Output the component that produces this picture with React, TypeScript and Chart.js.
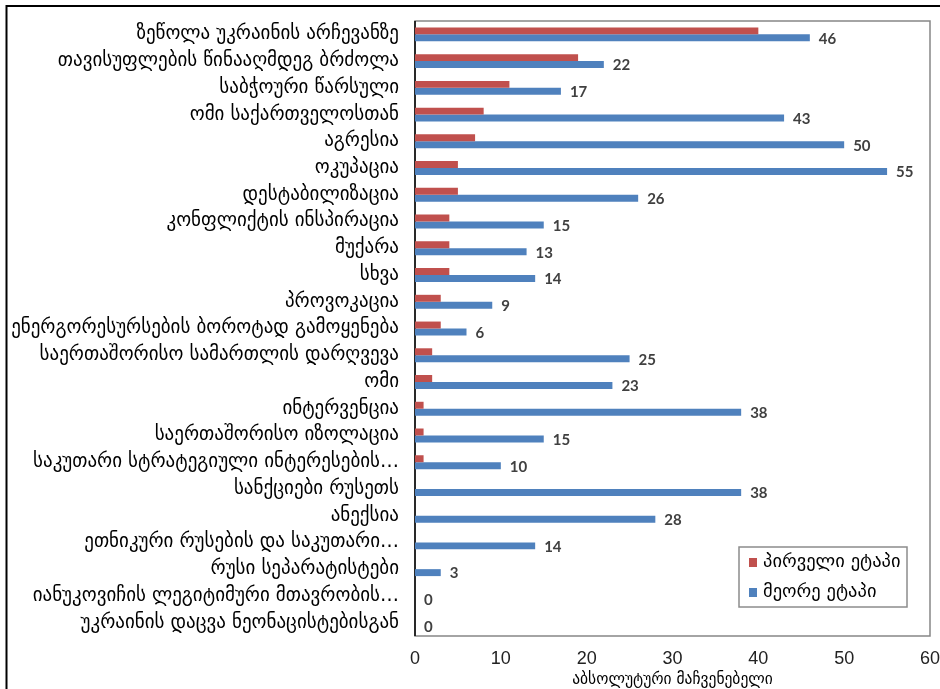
import React, { useEffect, useRef } from "react";
import { Chart, registerables } from "chart.js";

Chart.register(...registerables);

const categories = [
  "ზეწოლა უკრაინის არჩევანზე",
  "თავისუფლების წინააღმდეგ ბრძოლა",
  "საბჭოური წარსული",
  "ომი საქართველოსთან",
  "აგრესია",
  "ოკუპაცია",
  "დესტაბილიზაცია",
  "კონფლიქტის ინსპირაცია",
  "მუქარა",
  "სხვა",
  "პროვოკაცია",
  "ენერგორესურსების ბოროტად გამოყენება",
  "საერთაშორისო სამართლის დარღვევა",
  "ომი",
  "ინტერვენცია",
  "საერთაშორისო იზოლაცია",
  "საკუთარი სტრატეგიული ინტერესების…",
  "სანქციები რუსეთს",
  "ანექსია",
  "ეთნიკური რუსების და საკუთარი…",
  "რუსი სეპარატისტები",
  "იანუკოვიჩის ლეგიტიმური მთავრობის…",
  "უკრაინის დაცვა ნეონაცისტებისგან",
];

const firstStage = [40, 19, 11, 8, 7, 5, 5, 4, 4, 4, 3, 3, 2, 2, 1, 1, 1, 0, 0, 0, 0, 0, 0];
const secondStage = [46, 22, 17, 43, 50, 55, 26, 15, 13, 14, 9, 6, 25, 23, 38, 15, 10, 38, 28, 14, 3, 0, 0];

const seriesNames = ["პირველი ეტაპი", "მეორე ეტაპი"];
const seriesColors = ["#C0504D", "#4F81BD"];
const xMin = 0;
const xMax = 60;
const xStep = 10;
const xAxisTitle = "აბსოლუტური მაჩვენებელი";

const GEO_FONT = "'DejaVu Sans', 'Noto Sans', sans-serif";

const decorPlugin = {
  id: "decor",
  beforeDraw(chart: any) {
    const { ctx, width, height } = chart;
    ctx.save();
    ctx.fillStyle = "#ffffff";
    ctx.fillRect(0, 0, width, height);
    ctx.strokeStyle = "#000000";
    ctx.lineWidth = 2;
    ctx.beginPath();
    ctx.moveTo(6.5, height + 5);
    ctx.lineTo(6.5, 6);
    ctx.lineTo(width + 5, 6);
    ctx.stroke();
    ctx.restore();
  },
  beforeDatasetsDraw(chart: any) {
    const { ctx, chartArea: a } = chart;
    ctx.save();
    ctx.strokeStyle = "#868686";
    ctx.lineWidth = 1.5;
    ctx.strokeRect(a.left, a.top, a.right - a.left, a.bottom - a.top);
    ctx.strokeStyle = "#000000";
    ctx.lineWidth = 1.5;
    ctx.beginPath();
    ctx.moveTo(a.left, a.top);
    ctx.lineTo(a.left, a.bottom);
    ctx.stroke();
    ctx.restore();
  },
  afterDatasetsDraw(chart: any) {
    const { ctx } = chart;
    const meta = chart.getDatasetMeta(1);
    ctx.save();
    ctx.font = "bold 15px Lato, 'Open Sans', sans-serif";
    ctx.fillStyle = "#404040";
    ctx.textAlign = "left";
    ctx.textBaseline = "middle";
    meta.data.forEach((el: any, i: number) => {
      const v = chart.data.datasets[1].data[i];
      ctx.fillText(String(v), el.x + 9, el.y + 1);
    });
    ctx.restore();
  },
  afterDraw(chart: any) {
    const { ctx, chartArea: a } = chart;
    const w = 168;
    const h = 60;
    const x = a.right - 191;
    const y = a.bottom - 89;
    ctx.save();
    ctx.fillStyle = "#ffffff";
    ctx.fillRect(x, y, w, h);
    ctx.strokeStyle = "#8c8c8c";
    ctx.lineWidth = 1.5;
    ctx.strokeRect(x, y, w, h);
    ctx.font = `18.5px ${GEO_FONT}`;
    ctx.textAlign = "left";
    ctx.textBaseline = "middle";
    seriesNames.forEach((name, i) => {
      const cy = y + 15 + i * 30;
      ctx.fillStyle = seriesColors[i];
      ctx.fillRect(x + 10, cy - 4, 8, 9);
      ctx.fillStyle = "#000000";
      ctx.fillText(name, x + 24, cy);
    });
    ctx.restore();
  },
};

function ChartView() {
  const ref = useRef<HTMLCanvasElement | null>(null);
  useEffect(() => {
    if (!ref.current) return;
    const chart = new Chart(ref.current, {
      type: "bar",
      data: {
        labels: categories,
        datasets: [
          {
            label: seriesNames[0],
            data: firstStage,
            backgroundColor: seriesColors[0],
            categoryPercentage: 0.52,
            barPercentage: 1.0,
          },
          {
            label: seriesNames[1],
            data: secondStage,
            backgroundColor: seriesColors[1],
            categoryPercentage: 0.52,
            barPercentage: 1.0,
          },
        ],
      },
      options: {
        indexAxis: "y",
        responsive: false,
        animation: false,
        layout: { padding: { top: 21, right: 10, left: 0, bottom: 0 } },
        plugins: {
          legend: { display: false },
          tooltip: { enabled: false },
        },
        scales: {
          x: {
            min: xMin,
            max: xMax,
            grid: { display: false, drawTicks: false },
            border: { display: false },
            ticks: {
              stepSize: xStep,
              padding: 12,
              color: "#222222",
              font: { family: "'Liberation Sans', Arial, sans-serif", size: 18 },
            },
            title: {
              display: true,
              text: xAxisTitle,
              color: "#000000",
              font: { family: GEO_FONT, size: 15.5 },
              padding: { top: 0, bottom: 0 },
            },
            afterFit: (scale: any) => {
              scale.height = 53;
              scale.paddingRight = 0;
              scale.paddingLeft = 0;
            },
          },
          y: {
            grid: { display: false, drawTicks: false },
            border: { display: false },
            ticks: {
              autoSkip: false,
              padding: 16,
              color: "#000000",
              font: { family: GEO_FONT, size: 19 },
            },
            afterFit: (scale: any) => {
              scale.width = 415;
              scale.paddingTop = 0;
              scale.paddingBottom = 0;
            },
          },
        },
      },
      plugins: [decorPlugin],
    });
    return () => chart.destroy();
  }, []);
  return <canvas ref={ref} width={940} height={689} style={{ display: "block" }} />;
}

export default function App() {
  return (
    <div style={{ position: "absolute", left: 0, top: 0, width: 940, height: 689 }}>
      <ChartView />
    </div>
  );
}
